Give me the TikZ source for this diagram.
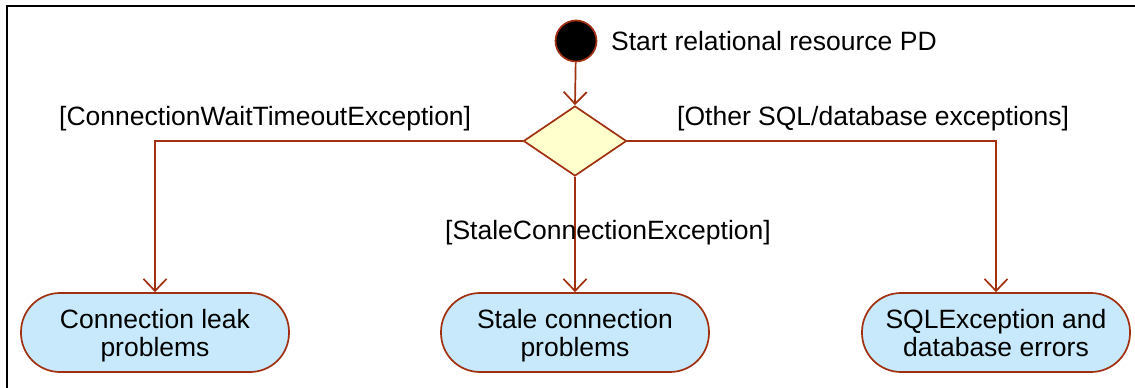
\documentclass[tikz,border=0pt]{standalone}
\usepackage{fontspec}
\setmainfont{Liberation Sans}
\usetikzlibrary{shapes.geometric,arrows.meta}
\definecolor{umlline}{RGB}{160,48,16}
\definecolor{actfill}{RGB}{200,232,252}
\definecolor{decfill}{RGB}{255,255,206}
% two centred lines of text, set a little low inside an activity
\newcommand\actlines[1]{\raisebox{-11pt}[0pt][0pt]{\begin{tabular}{@{}c@{}}#1\end{tabular}}}
\tikzset{
  every node/.style={font=\fontsize{26.5}{28}\selectfont},
  flow/.style={draw=umlline, line width=1.7pt,
    -{Straight Barb[length=12pt,width=23pt,line width=1.7pt]}},
  initial/.style={circle, fill=black, draw=umlline, line width=1.7pt,
    minimum size=41pt, inner sep=0pt},
  decision/.style={diamond, fill=decfill, draw=umlline, line width=1.7pt,
    minimum width=103pt, minimum height=70pt, inner sep=0pt},
  activity/.style={rectangle, rounded corners=39pt, fill=actfill,
    draw=umlline, line width=1.7pt, minimum width=268pt, minimum height=79pt,
    inner sep=0pt},
  guard/.style={inner sep=0pt}
}
\begin{document}
\begin{tikzpicture}[x=1pt,y=-1pt]
  \useasboundingbox (0,0) rectangle (1135,388);
  % partial frame
  \draw[line width=2pt] (7,388) -- (7,6) -- (1135,6);

  \node[initial] (start) at (576,41) {};
  \node[guard, anchor=base west] (startlbl) at (611,50) {Start relational resource PD};

  \node[decision] (dec) at (575,141) {};

  \node[activity] (leak) at (155,332.5) {\actlines{Connection leak\\problems}};
  \node[activity] (stale) at (575,332.5) {\actlines{Stale connection\\problems}};
  \node[activity] (sqlerr) at (996,332.5) {\actlines{SQLException and\\database errors}};

  \draw[flow] (start) -- (dec.north);
  \draw[flow] (dec.west) -| (leak.north);
  \draw[flow] (dec.south) -- (stale.north);
  \draw[flow] (dec.east) -| (sqlerr.north);

  \node[guard, anchor=base west] (g1) at (59,125) {[ConnectionWaitTimeoutException]};
  \node[guard, anchor=base west] (g2) at (445,239) {[StaleConnectionException]};
  \node[guard, anchor=base west] (g3) at (677,125) {[Other SQL/database exceptions]};
\end{tikzpicture}
\end{document}
